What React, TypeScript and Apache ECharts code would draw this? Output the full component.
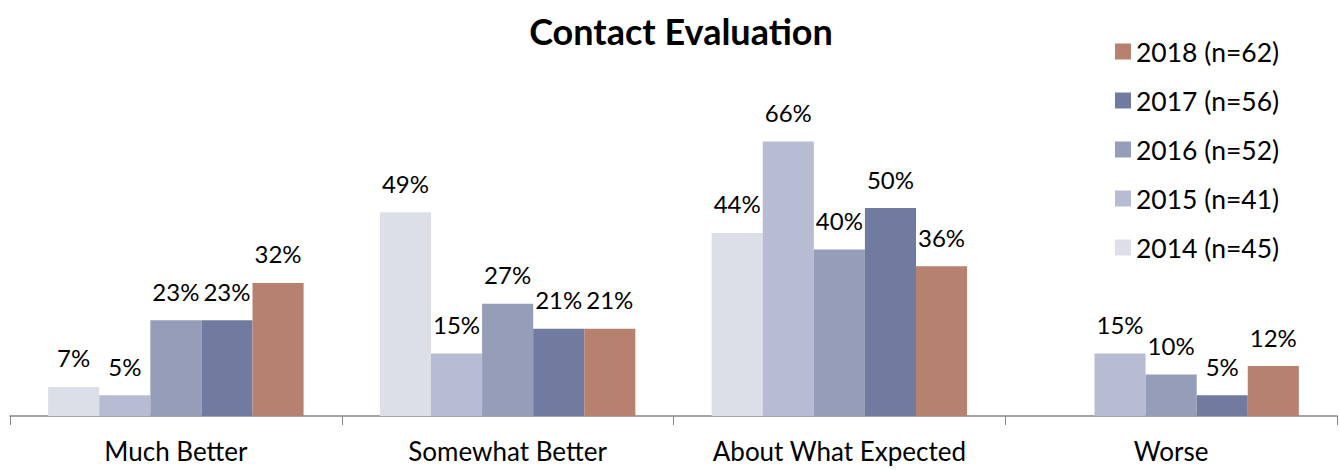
import React, { useEffect, useRef } from "react";
import * as echarts from "echarts";

const categories = ["Much Better", "Somewhat Better", "About What Expected", "Worse"];
const seriesNames = ["2014 (n=45)", "2015 (n=41)", "2016 (n=52)", "2017 (n=56)", "2018 (n=62)"];
const v2014 = [7, 49, 44, null];
const v2015 = [5, 15, 66, 15];
const v2016 = [23, 27, 40, 10];
const v2017 = [23, 21, 50, 5];
const v2018 = [32, 21, 36, 12];
const colors = ["#DCDEE8", "#B8BCD2", "#969DB8", "#717BA0", "#B6826F"];

const FONT = "Lato, 'Open Sans', sans-serif";

export default function App() {
  const ref = useRef<HTMLDivElement>(null);
  useEffect(() => {
    document.body.style.margin = "0";
    const chart = echarts.init(ref.current!, null, { renderer: "svg" });
    const all = [v2014, v2015, v2016, v2017, v2018];
    chart.setOption({
      animation: false,
      title: {
        text: "Contact Evaluation",
        left: 676,
        textAlign: "center",
        top: 8,
        textStyle: { fontFamily: FONT, fontSize: 36, fontWeight: "bold", color: "#000" },
      },
      legend: {
        orient: "vertical",
        left: 1110,
        top: 33,
        itemWidth: 16,
        itemHeight: 16,
        itemGap: 22,
        data: [...seriesNames].reverse(),
        textStyle: { fontFamily: FONT, fontSize: 26.5, color: "#000" },
        icon: "rect",
      },
      grid: { left: 10, right: 3, top: 83.2, bottom: 54 },
      xAxis: {
        type: "category",
        data: categories,
        axisLine: { lineStyle: { color: "#868686", width: 1.5 } },
        axisTick: { show: true, interval: 0, length: 9, lineStyle: { color: "#868686" } },
        axisLabel: { interval: 0, fontFamily: FONT, fontSize: 26, color: "#000", margin: 22 },
      },
      yAxis: {
        type: "value",
        min: 0,
        max: 80,
        show: false,
        splitLine: { show: false },
      },
      series: seriesNames.map((name, i) => ({
        name,
        type: "bar",
        data: all[i],
        barGap: "0%",
        barCategoryGap: "23%",
        itemStyle: { color: colors[i] },
        label: {
          show: true,
          position: "top",
          distance: 17,
          formatter: "{c}%",
          fontFamily: FONT,
          fontSize: 24,
          color: "#000",
        },
      })),
    });
    return () => chart.dispose();
  }, []);
  return <div ref={ref} style={{ width: 1340, height: 470 }} />;
}
